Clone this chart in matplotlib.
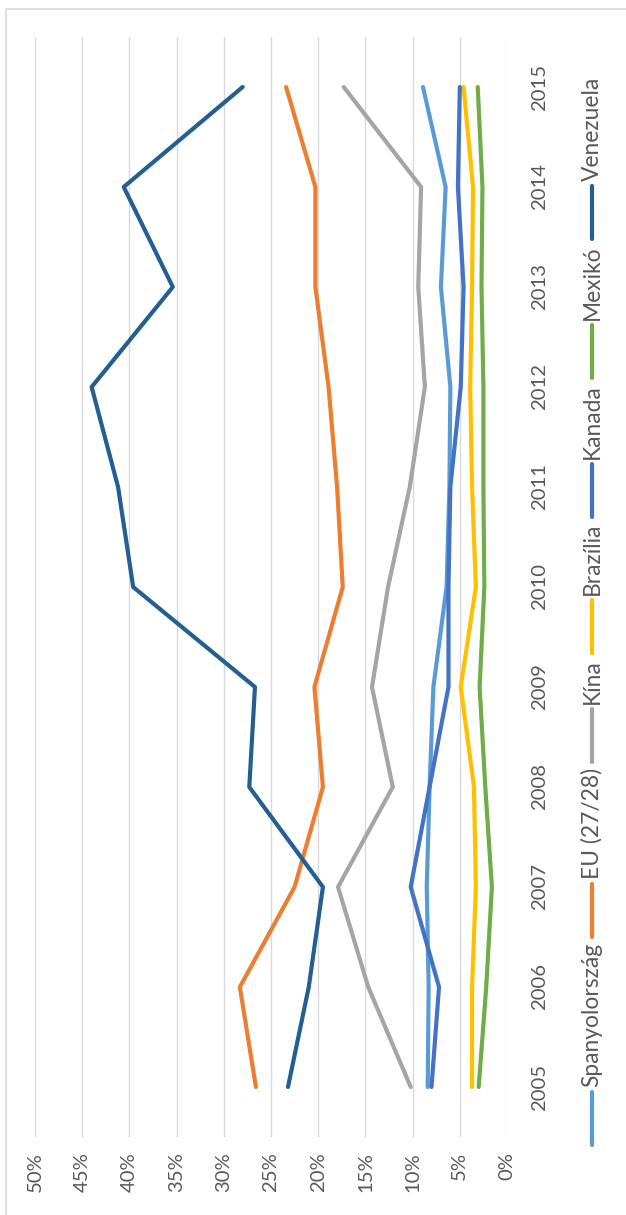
"""Munkanélküliség / arányok 2005-2015 - elforgatott vonaldiagram."""
import matplotlib
matplotlib.use("Agg")
import matplotlib.pyplot as plt
from matplotlib.lines import Line2D
from matplotlib.patches import Rectangle

evek = [2005, 2006, 2007, 2008, 2009, 2010, 2011, 2012, 2013, 2014, 2015]
spanyol = [8.4, 8.3, 8.5, 8.2, 7.8, 6.4, 6.1, 6.0, 7.0, 6.5, 8.9]
eu = [26.6, 28.3, 22.5, 19.5, 20.4, 17.4, 18.0, 18.9, 20.3, 20.3, 23.4]
kina = [10.2, 14.7, 17.9, 12.1, 14.3, 12.6, 10.3, 8.7, 9.4, 9.1, 17.3]
brazilia = [3.7, 3.7, 3.3, 3.5, 4.9, 3.3, 3.7, 3.9, 3.7, 3.6, 4.6]
kanada = [8.0, 7.2, 10.2, 8.2, 6.2, 6.2, 6.0, 4.9, 4.6, 5.2, 5.0]
mexiko = [3.0, 2.2, 1.6, 2.3, 2.9, 2.4, 2.5, 2.5, 2.7, 2.6, 3.1]
venezuela = [23.2, 21.0, 19.5, 27.3, 26.7, 39.6, 41.2, 44.0, 35.4, 40.6, 28.0]

sorozatok = [
    ("Spanyolország", spanyol, "#5B9BD5"),
    ("EU (27/28)", eu, "#ED7D31"),
    ("Kína", kina, "#A5A5A5"),
    ("Brazília", brazilia, "#FFC000"),
    ("Kanada", kanada, "#4472C4"),
    ("Mexikó", mexiko, "#70AD47"),
    ("Venezuela", venezuela, "#255E91"),
]
szazalek_ertekek = [0, 5, 10, 15, 20, 25, 30, 35, 40, 45, 50]
szazalek_cimkek = [f"{v}%" for v in szazalek_ertekek]

W, H = 626, 1215
SZOVEG = "#595959"
RACS = "#D9D9D9"
plt.rcParams["font.family"] = ["Lato", "DejaVu Sans"]


def fx(px):
    return px / W


def fy(py):
    return 1 - py / H


fig = plt.figure(figsize=(W / 100, H / 100), dpi=100)
fig.add_artist(Rectangle((fx(6), fy(1300)), 2, fy(9) - fy(1300),
                         transform=fig.transFigure, fill=False,
                         edgecolor=RACS, linewidth=1.2))

ax = fig.add_axes([fx(35), fy(1137), fx(507) - fx(35), fy(37) - fy(1137)])
for nev, ertekek, szin in sorozatok:
    ax.plot(ertekek, evek, color=szin, linewidth=3.0,
            solid_capstyle="round", solid_joinstyle="round", zorder=3)

ax.set_xlim(50, 0)
ax.set_ylim(evek[0] - 0.5, evek[-1] + 0.5)
ax.set_xticks(szazalek_ertekek)
ax.set_xticklabels(szazalek_cimkek, rotation=90, fontsize=14.6, color=SZOVEG)
ax.set_yticks(evek)
ax.set_yticklabels([str(e) for e in evek], rotation=90, fontsize=14.6,
                   color=SZOVEG, va="center")
ax.yaxis.tick_right()
ax.tick_params(axis="x", length=0, pad=11)
ax.tick_params(axis="y", length=0, pad=17)
ax.grid(axis="x", color=RACS, linewidth=1.0)
ax.set_axisbelow(True)
for s in ax.spines.values():
    s.set_visible(False)

# jelmagyarázat: alulról felfelé, elforgatva
fig.canvas.draw()
renderer = fig.canvas.get_renderer()
lx = 592
y = 1145
for nev, ertekek, szin in sorozatok:
    fig.add_artist(Line2D([fx(lx), fx(lx)], [fy(y), fy(y - 53)],
                          transform=fig.transFigure, color=szin,
                          linewidth=3.0, solid_capstyle="round"))
    y -= 58
    t = fig.text(fx(lx), fy(y), nev, rotation=90, ha="center", va="bottom",
                 fontsize=16.4, color=SZOVEG)
    bb = t.get_window_extent(renderer)
    y -= bb.height + 6

fig.savefig("out.png", dpi=100)
